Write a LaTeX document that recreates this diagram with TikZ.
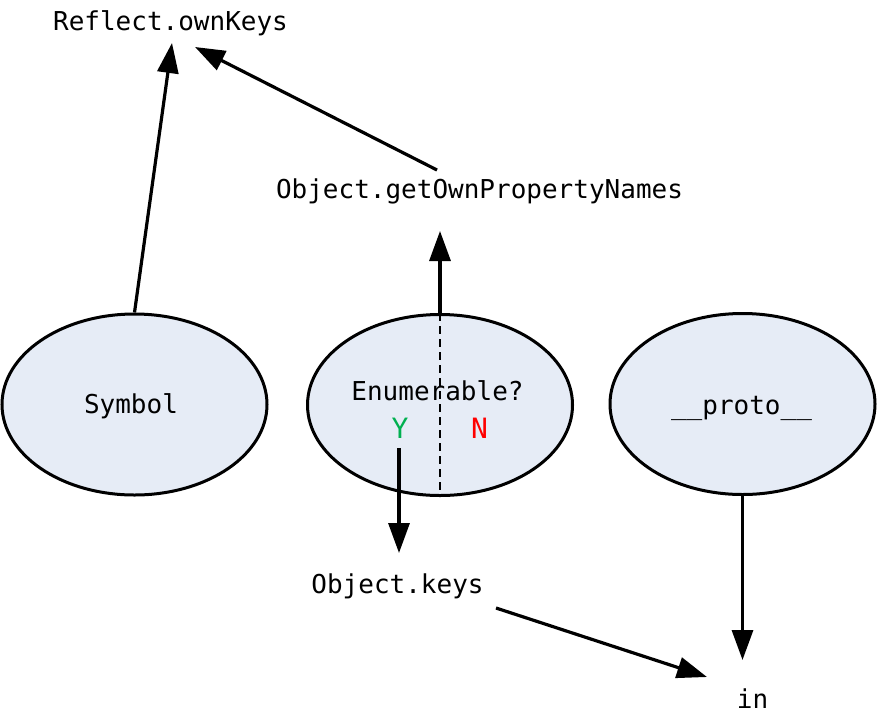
\documentclass[tikz,border=0pt]{standalone}
\usepackage{fontspec}
\setmonofont{DejaVu Sans Mono}
\usetikzlibrary{shapes.geometric,arrows.meta,calc}
\definecolor{ellfill}{RGB}{230,236,246}
\definecolor{ygreen}{RGB}{0,176,80}
\definecolor{nred}{RGB}{255,0,0}
\begin{document}
\begin{tikzpicture}[x=1pt,y=-1pt,
  lbl/.style={inner sep=0pt,anchor=base,font=\fontsize{26}{30}\selectfont\ttfamily},
  yn/.style={inner sep=0pt,anchor=base,font=\fontsize{28}{32}\selectfont\ttfamily},
  ell/.style={ellipse,draw=black,line width=3pt,fill=ellfill,minimum width=265pt,minimum height=181pt,inner sep=0pt},
  arr/.style={line width=3.2pt,-{Triangle[length=30pt,width=21pt]}},
  dashline/.style={line width=1.2pt,dash pattern=on 8pt off 5pt}]
\useasboundingbox (0,0) rectangle (877,720);
% ellipses
\node[ell] (sym) at (134.5,404.5) {};
\node[ell] (mid) at (440,405) {};
\node[ell] (proto) at (742.5,404) {};
% labels
\node[lbl] (rok) at (170.5,30) {Reflect.ownKeys};
\node[lbl] (gopn) at (479.5,198) {Object.getOwnPropertyNames};
\node[lbl] (okeys) at (397.5,593) {Object.keys};
\node[lbl] (inn) at (752.5,708) {in};
\node[lbl] (symt) at (131,413) {Symbol};
\node[lbl] (enum) at (437.5,400) {Enumerable?};
\node[lbl] (protot) at (741.5,414) {\_\_proto\_\_};
\node[yn,text=ygreen] (ylab) at (400,438) {Y};
\node[yn,text=nred] (nlab) at (479.5,438) {N};
% dashed divider
\draw[dashline] (mid.north) -- (mid.south);
% connectors
\draw[arr] (sym.north) -- ($(rok.base)+(1.5,13)$);
\draw[arr] ($(gopn.base)+(-42.5,-28)$) -- ($(rok.base)+(24.5,17)$);
\draw[arr] (mid.north) -- ($(gopn.base)+(-39.5,33)$);
\draw[arr] ($(ylab.base)+(-1,10)$) -- ($(okeys.base)+(1.5,-40)$);
\draw[arr] ($(okeys.base)+(98.5,15)$) -- ($(inn.base)+(-45.5,-31)$);
\draw[arr] (proto.south) -- ($(inn.base)+(-10,-48)$);
\end{tikzpicture}
\end{document}
